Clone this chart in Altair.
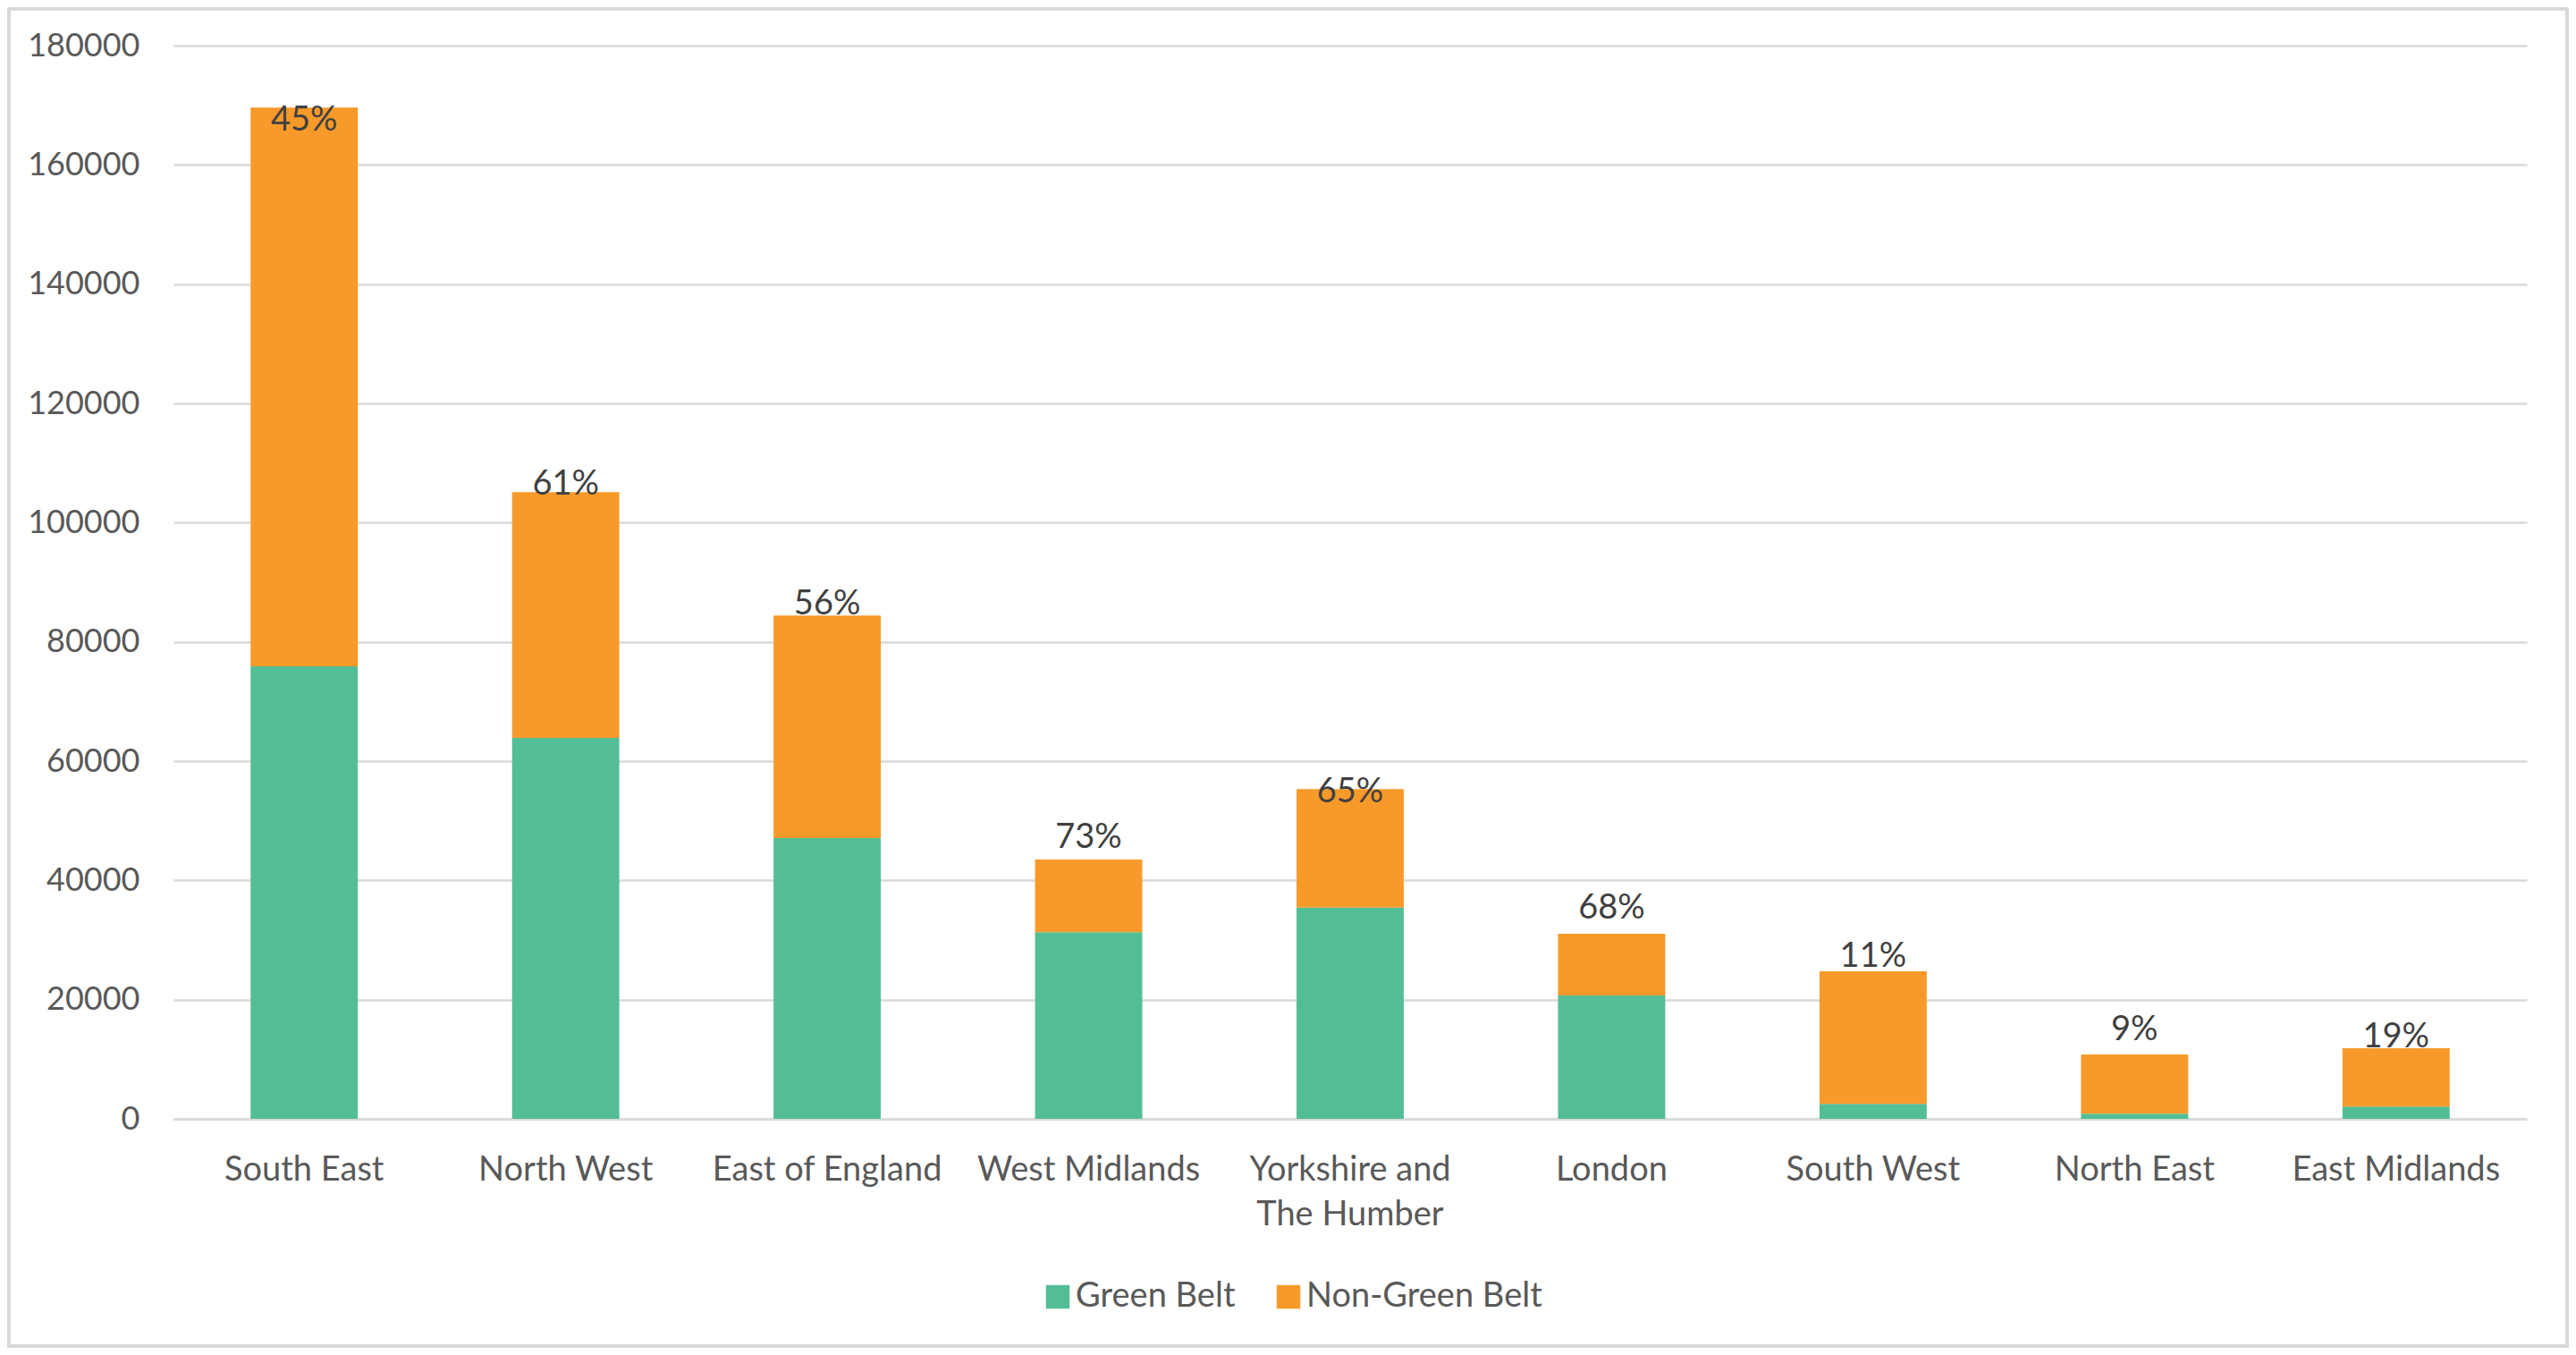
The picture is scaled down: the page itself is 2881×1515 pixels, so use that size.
import altair as alt
import pandas as pd

regions = ["South East", "North West", "East of England", "West Midlands",
           "Yorkshire and The Humber", "London", "South West", "North East", "East Midlands"]
green_belt = [75900, 63900, 47100, 31300, 35450, 20700, 2500, 850, 2050]
non_green_belt = [93700, 41200, 37300, 12200, 19850, 10350, 22250, 9950, 9800]
pct_labels = ["45%", "61%", "56%", "73%", "65%", "68%", "11%", "9%", "19%"]
label_at = [168000, 107000, 86800, 47750, 55300, 35900, 27750, 15450, 14250]
series = ["Green Belt", "Non-Green Belt"]
colors = ["#53BE95", "#F89A2A"]

rows = []
for r, g, n in zip(regions, green_belt, non_green_belt):
    rows.append({"region": r, "series": series[0], "value": g, "ord": 0})
    rows.append({"region": r, "series": series[1], "value": n, "ord": 1})
bars_df = pd.DataFrame(rows)
labels_df = pd.DataFrame({"region": regions, "label": pct_labels, "pos": label_at})

FONT = "Lato"
W, H = 2632, 1200

x_enc = alt.X("region:N", sort=regions, title=None,
              scale=alt.Scale(paddingInner=0.59, paddingOuter=0.295),
              axis=alt.Axis(labelAngle=0, ticks=False, domain=True, domainColor="#D9D9D9",
                            domainWidth=2.5, labelPadding=38, labelFontSize=38,
                            labelColor="#595959", labelFont=FONT, labelLineHeight=50,
                            labelBaseline="top", labelLimit=0,
                            labelExpr="datum.label == 'Yorkshire and The Humber' ? ['Yorkshire and', 'The Humber'] : datum.label"))

bars = alt.Chart(bars_df).mark_bar().encode(
    x=x_enc,
    y=alt.Y("value:Q", stack="zero", title=None,
            scale=alt.Scale(domain=[0, 180000], nice=False),
            axis=alt.Axis(values=list(range(0, 180001, 20000)), format="d", ticks=False,
                          domain=False, grid=True, gridColor="#D9D9D9", gridWidth=2.5,
                          labelPadding=38, labelFontSize=36, labelColor="#595959",
                          labelFont=FONT)),
    color=alt.Color("series:N", sort=series, title=None,
                    scale=alt.Scale(domain=series, range=colors),
                    legend=alt.Legend(orient="none", legendX=970, legendY=1380,
                                      direction="horizontal", symbolType="square",
                                      symbolSize=700, symbolStrokeWidth=0,
                                      labelFontSize=38, labelFont=FONT, labelLimit=0,
                                      labelColor="#595959", labelOffset=1,
                                      columnPadding=40, padding=0)),
    order=alt.Order("ord:Q"),
)

texts = alt.Chart(labels_df).mark_text(font=FONT, fontSize=38, color="#404040",
                                       baseline="middle", align="center", dy=4).encode(
    x=alt.X("region:N", sort=regions),
    y=alt.Y("pos:Q"),
    text="label:N",
)

border = alt.Chart(labels_df).mark_rect(fill=None, stroke="#D9D9D9", strokeWidth=3).encode(
    x=alt.value(-184), x2=alt.value(W + 45),
    y=alt.value(-41), y2=alt.value(H + 254),
)

chart = alt.layer(bars, texts, border).properties(
    width=W, height=H,
    autosize=alt.AutoSizeParams(type="none"),
    padding={"left": 186, "top": 43, "right": 47, "bottom": 256},
    background="white",
).configure_view(stroke=None)

chart.save("out.html", embed_options={"renderer": "svg", "actions": False})
